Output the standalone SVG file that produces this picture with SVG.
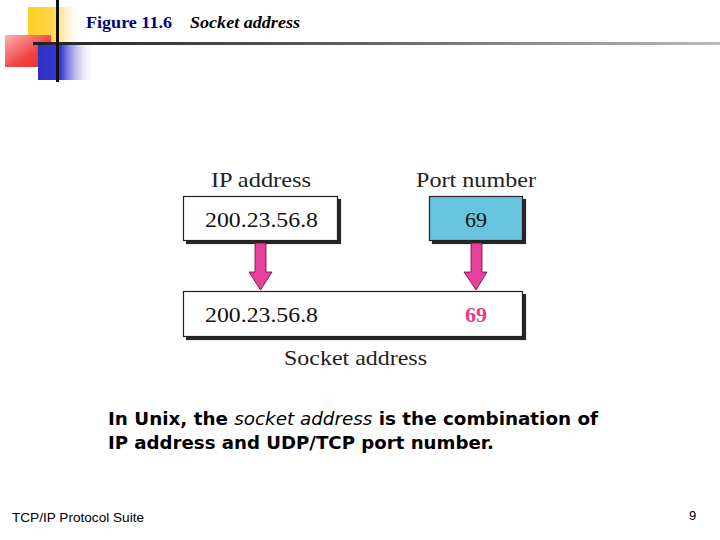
<svg xmlns="http://www.w3.org/2000/svg" width="720" height="540" viewBox="0 0 720 540">
<defs>
<linearGradient id="gy" x1="0" y1="0" x2="1" y2="0"><stop offset="0" stop-color="#ffd020"/><stop offset="0.45" stop-color="#ffd54a"/><stop offset="1" stop-color="#fff" stop-opacity="0"/></linearGradient>
<linearGradient id="gr" x1="0" y1="0" x2="1" y2="1"><stop offset="0" stop-color="#ffb0b0"/><stop offset="0.6" stop-color="#f04040"/><stop offset="1" stop-color="#e83030"/></linearGradient>
<linearGradient id="gb" x1="0" y1="0" x2="1" y2="0"><stop offset="0" stop-color="#3030c8"/><stop offset="0.4" stop-color="#3a3ad0"/><stop offset="1" stop-color="#fff" stop-opacity="0"/></linearGradient>
<linearGradient id="gl" x1="0" y1="0" x2="1" y2="0"><stop offset="0" stop-color="#222"/><stop offset="0.5" stop-color="#666"/><stop offset="1" stop-color="#bbb"/></linearGradient>
<filter id="sh" x="-5%" y="-5%" width="115%" height="130%"><feOffset dx="3" dy="3" in="SourceAlpha" result="o"/><feGaussianBlur in="o" stdDeviation="0.6"/><feComponentTransfer><feFuncA type="linear" slope="0.85"/></feComponentTransfer><feMerge><feMergeNode/><feMergeNode in="SourceGraphic"/></feMerge></filter>
</defs>
<style>
.box{stroke:#222;stroke-width:1.2;filter:url(#sh)}
.lbl{font-family:"Liberation Serif","DejaVu Serif",serif;font-size:22px;fill:#222}
.val{font-family:"Liberation Serif","DejaVu Serif",serif;font-size:22px;fill:#111}
.arr{fill:#e8409a;stroke:#5a1030;stroke-width:0.8}
.body{font-family:"DejaVu Sans",Verdana,sans-serif;font-weight:bold;font-size:18px;fill:#000}
</style>
<rect width="720" height="540" fill="#fff"/>
<g id="decor">
<rect x="28" y="7" width="55" height="36" fill="url(#gy)"/>
<rect x="5" y="35" width="46" height="32" fill="url(#gr)"/>
<rect x="38" y="43" width="58" height="37" fill="url(#gb)"/>
<rect x="33" y="42" width="687" height="3" fill="url(#gl)"/>
<rect x="56" y="0" width="3" height="82" fill="#111"/>
</g>
<g id="title">
<text x="86" y="28" font-family="'Liberation Serif',serif" font-weight="bold" font-size="17.5" fill="#000080" textLength="86" lengthAdjust="spacingAndGlyphs">Figure 11.6</text>
<text x="190" y="28" font-family="'Liberation Serif',serif" font-weight="bold" font-style="italic" font-size="17.5" fill="#000" textLength="110" lengthAdjust="spacingAndGlyphs">Socket address</text>
</g>
<g id="ip-box">
<rect class="box" x="183.5" y="196.5" width="154" height="44" fill="#fff"/>
<text class="lbl" x="211" y="187" textLength="100" lengthAdjust="spacingAndGlyphs">IP address</text>
<text class="val" x="205" y="227" textLength="113" lengthAdjust="spacingAndGlyphs">200.23.56.8</text>
</g>
<g id="port-box">
<rect class="box" x="429.5" y="196.5" width="93" height="44" fill="#66c4df"/>
<text class="lbl" x="416" y="187" textLength="120" lengthAdjust="spacingAndGlyphs">Port number</text>
<text class="val" x="476" y="227" text-anchor="middle">69</text>
</g>
<g id="connectors">
<path class="arr" d="M255,243 H266 V272 H272 L260.5,290 L249,272 H255 Z"/>
<path class="arr" d="M471,243 H482 V272 H487 L476,290 L464,272 H471 Z"/>
</g>
<g id="socket-box">
<rect class="box" x="183.5" y="291.5" width="339" height="45" fill="#fff"/>
<text class="val" x="205" y="322" textLength="113" lengthAdjust="spacingAndGlyphs">200.23.56.8</text>
<text x="476" y="322" text-anchor="middle" font-family="'Liberation Serif',serif" font-weight="bold" font-size="22" fill="#e0408a">69</text>
<text class="lbl" x="284" y="365" textLength="143" lengthAdjust="spacingAndGlyphs">Socket address</text>
</g>
<g id="caption">
<text class="body" x="108" y="425" textLength="490" lengthAdjust="spacingAndGlyphs">In Unix, the <tspan font-style="italic" font-weight="normal">socket address</tspan> is the combination of</text>
<text class="body" x="108" y="449" textLength="386" lengthAdjust="spacingAndGlyphs">IP address and UDP/TCP port number.</text>
</g>
<g id="footer">
<text x="12" y="522" font-family="'Liberation Sans',sans-serif" font-size="13" fill="#000" textLength="132" lengthAdjust="spacingAndGlyphs">TCP/IP Protocol Suite</text>
<text x="689" y="520" font-family="'Liberation Sans',sans-serif" font-size="13" fill="#000">9</text>
</g>
</svg>
